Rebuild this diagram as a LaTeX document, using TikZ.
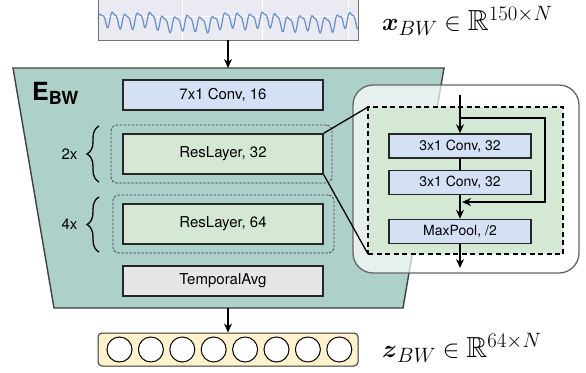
\documentclass[tikz,border=0pt]{standalone}
\usepackage{amsmath}
\usepackage{amssymb}
\usepackage{fontspec}
\setsansfont{TeX Gyre Heros}
\usetikzlibrary{positioning,arrows.meta,decorations.pathreplacing}
\definecolor{encteal}{RGB}{174,208,202}
\definecolor{convblue}{RGB}{212,225,245}
\definecolor{resgreen}{RGB}{213,232,212}
\definecolor{avggray}{RGB}{230,230,230}
\definecolor{vecyellow}{RGB}{255,242,204}
\definecolor{plotbg}{RGB}{234,234,242}
\definecolor{sigblue}{RGB}{106,143,200}
\tikzset{
  layerbox/.style={draw=black!85, line width=1.6pt, minimum width=200pt, inner sep=0pt},
  convbox/.style={draw=black!85, line width=1.5pt, fill=convblue, minimum width=142pt,
    minimum height=24pt, inner sep=0pt, font=\sffamily\fontsize{14}{16}\selectfont},
  repgroup/.style={draw=black!75, dash pattern=on 2.5pt off 1.5pt, line width=0.8pt,
    rounded corners=6pt, minimum width=221pt, minimum height=58pt},
  repbrace/.style={decorate, decoration={brace, amplitude=12pt}, line width=1.3pt},
  flow/.style={->, line width=1.4pt},
}
\newcommand{\replabel}[3]{%
  \draw[repbrace] (99,#2) -- (99,#1);
  \node[anchor=east] at (81,{(#1+#2)/2}) {#3};}

\begin{document}
\begin{tikzpicture}[x=1pt, y=-1pt, font=\sffamily\fontsize{15}{17}\selectfont,
    >={Stealth[length=9pt,width=8pt]}]
  \useasboundingbox (0,0) rectangle (586,372);
  \fill[plotbg] (98,-3) rectangle (358,40);
  \draw[white, line width=0.8pt] (98,16) -- (358,16) (182,-3) -- (182,40)
    (262,-3) -- (262,40) (348,-3) -- (348,40);
  \draw[sigblue, line width=1.2pt] plot[domain=0:20.8, samples=420]
    ({98+12.5*\x}, {21-7*sin(360*(\x-floor(\x)))-2.5*sin(720*(\x-floor(\x))+60)-2*sin(\x*37)-1.5*sin(\x*113)});
  \draw[black!55, line width=1pt] (98,-3) |- (358,40) -- (358,-3);
  \node[minimum width=260pt, minimum height=43pt, inner sep=0pt] (sig) at (228,18.5) {};
  \node[anchor=base west, inner sep=0pt] (xlabel) at (382,30)
    {\fontsize{29}{29}\selectfont$\boldsymbol{x}_{BW}\in\mathbb{R}^{150\times N}$};

  \draw[fill=encteal, draw=black!75, line width=1.4pt]
    (13,68) -- (444,68) -- (403,308) -- (54,308) -- cycle;
  \coordinate (encin) at (228,68);
  \coordinate (encout) at (228,308);
  \node[anchor=base west, inner sep=0pt] (enclabel) at (32,100)
    {\fontsize{25}{25}\selectfont\bfseries E\raisebox{-4pt}{\fontsize{18}{18}\selectfont BW}};

  \node[repgroup] (grp32) at (221.5,154) {};
  \node[repgroup] (grp64) at (223.5,224) {};
  \node[layerbox, fill=convblue, minimum height=30pt] (conv7) at (223,95) {7x1 Conv, 16};
  \node[layerbox, fill=resgreen, minimum height=40pt] (res32) at (223,154) {ResLayer, 32};
  \node[layerbox, fill=resgreen, minimum height=40pt] (res64) at (223,224) {ResLayer, 64};
  \node[layerbox, fill=avggray, minimum height=30pt] (tavg) at (223,281) {TemporalAvg};
  \replabel{126}{182}{2x}
  \replabel{197}{252}{4x}

  \draw[fill=white, fill opacity=0.7, draw=black!60, line width=1.3pt, rounded corners=20pt]
    (353,85) rectangle (579,273);
  \draw[line width=1.3pt] (res32.north east) -- (368,107);
  \draw[line width=1.3pt] (res32.south east) -- (368,254);
  \node[draw=black, fill=resgreen, dash pattern=on 5pt off 3.5pt, line width=1.4pt,
    minimum width=195pt, minimum height=147pt] (resdetail) at (465.5,180.5) {};
  \node[convbox] (conva) at (460,146) {3x1 Conv, 32};
  \node[convbox] (convb) at (460,182.5) {3x1 Conv, 32};
  \node[convbox] (pool) at (460,231.5) {MaxPool, /2};
  \coordinate (resin) at (460,95);
  \coordinate (skip) at (460,118);
  \coordinate (skipin) at (462,202);
  \coordinate (resout) at (460,268);
  \draw[flow] (resin) -- (conva);
  \draw[line width=1.4pt] (conva) -- (convb);
  \draw[flow] (convb) -- (pool);
  \draw[flow] (skip) -- ++(85,0) |- (skipin);
  \draw[flow] (pool) -- (resout);

  \draw[flow] (sig) -- (encin);
  \node[draw=black!80, fill=vecyellow, rounded corners=4pt, line width=1pt,
    minimum width=260pt, minimum height=33pt] (zvec) at (228,349.5) {};
  \foreach \i in {0,...,7}
    \draw[fill=white, line width=1pt] ({119.5+31.4*\i},349.5) circle (12.5pt);
  \draw[flow] (encout) -- (zvec);
  \node[anchor=base west, inner sep=0pt] (zlabel) at (382,357)
    {\fontsize{29}{29}\selectfont$\boldsymbol{z}_{BW}\in\mathbb{R}^{64\times N}$};
\end{tikzpicture}
\end{document}
